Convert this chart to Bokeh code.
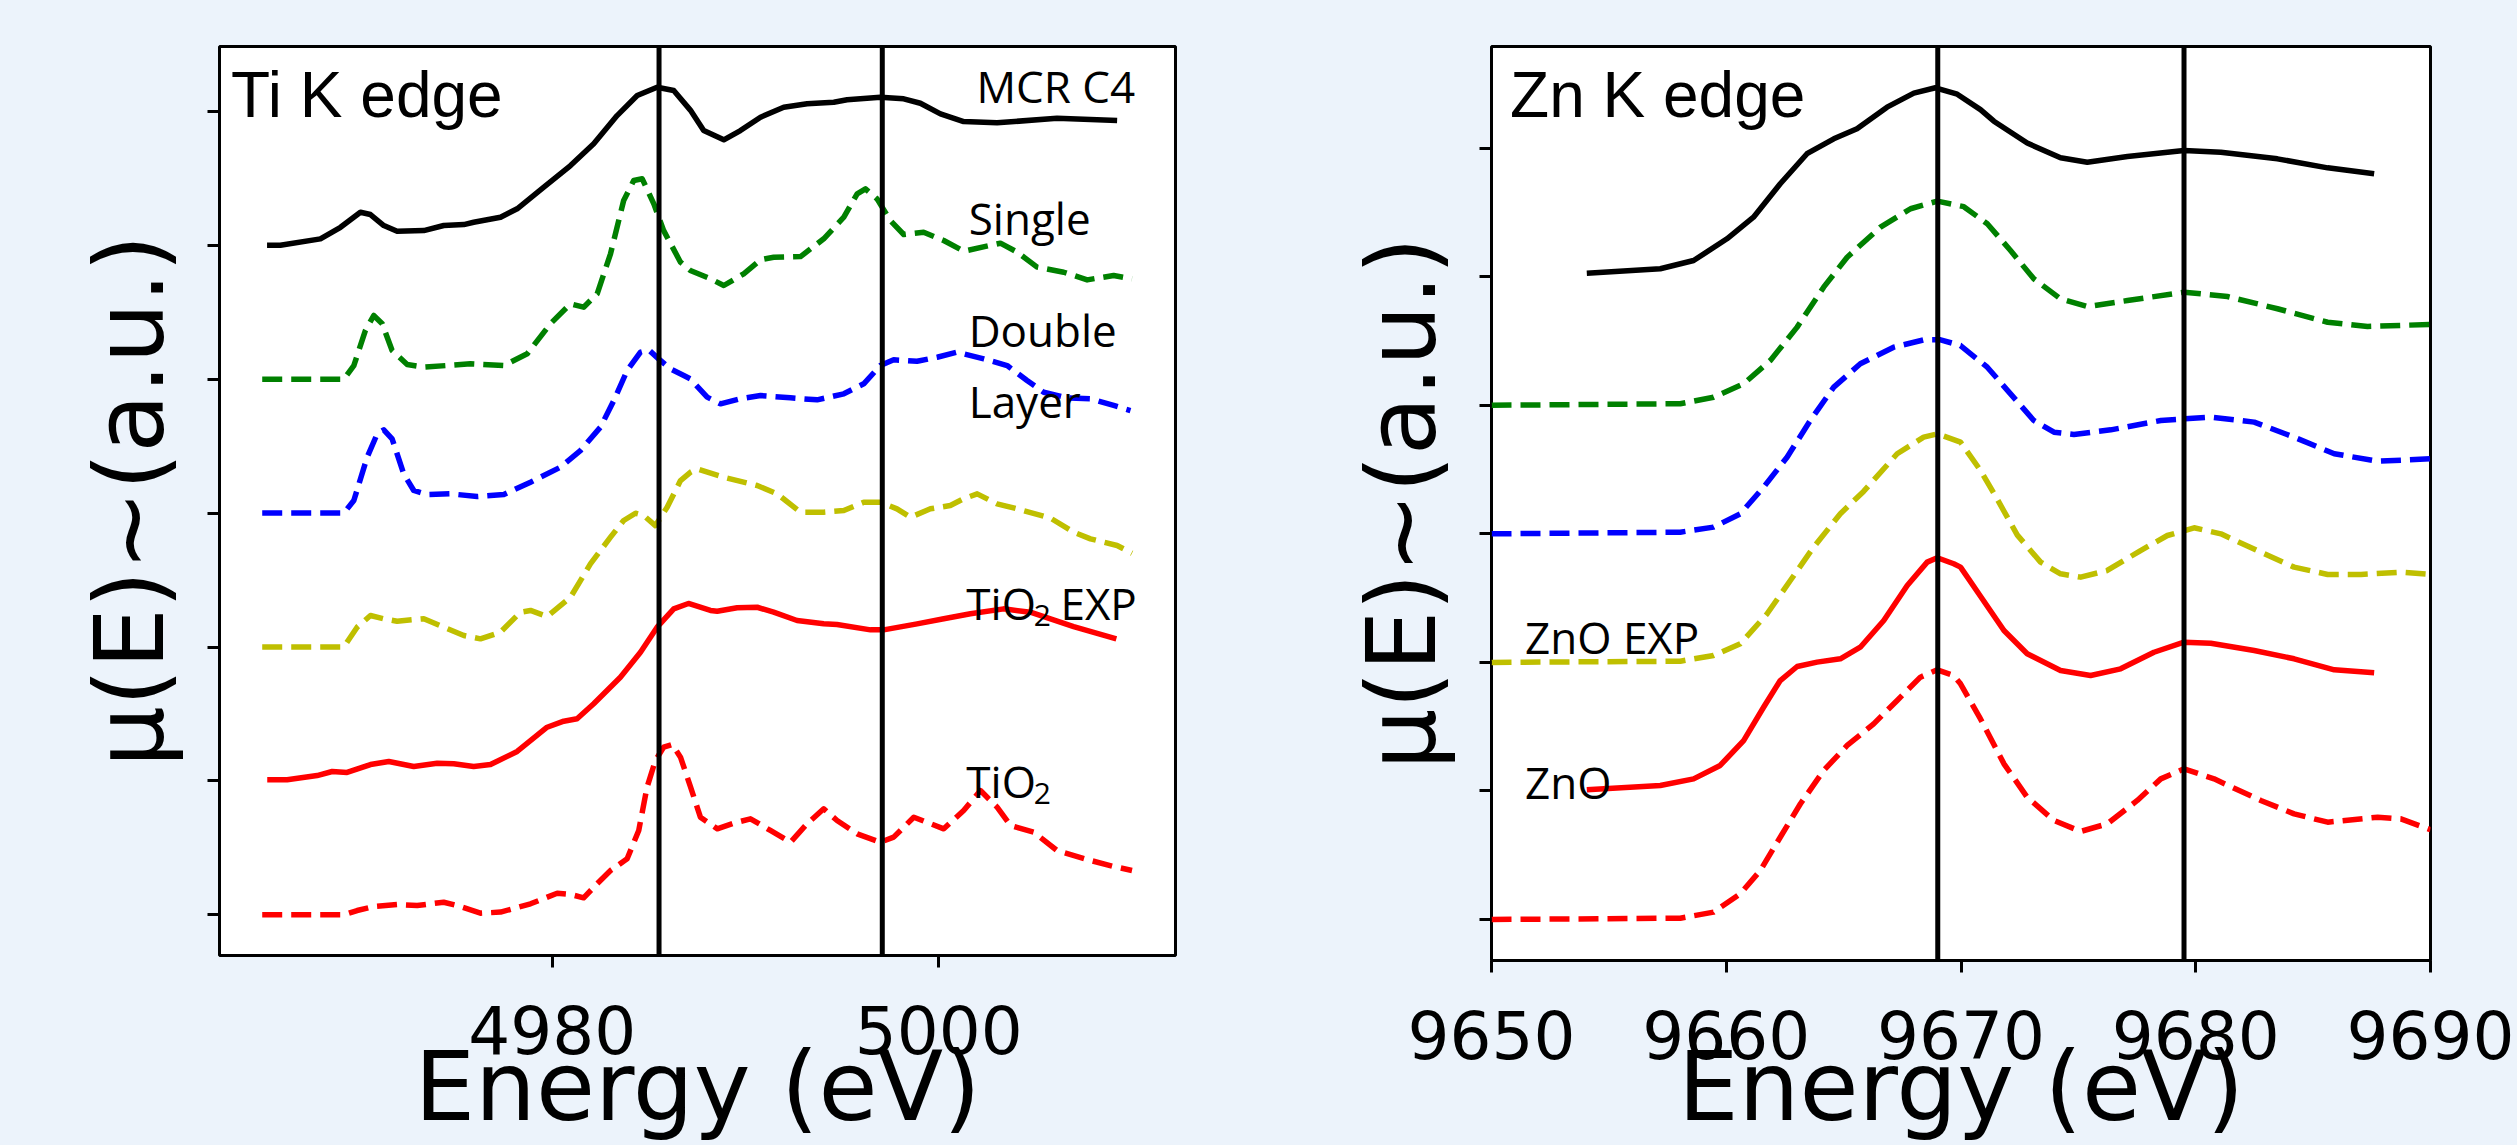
from bokeh.plotting import figure
from bokeh.models import Range1d, FixedTicker, Label, Span
from bokeh.layouts import row, column
from bokeh.embed import file_html
from bokeh.resources import INLINE

# ---------------- Ti K edge data (energy in eV, stacked absorption) ----------------
ti_mcr_e = [4965.25, 4965.94, 4968.01, 4969.05, 4970.08, 4970.60, 4971.29, 4971.98, 4973.36, 4974.39,
            4975.43, 4975.94, 4977.33, 4978.19, 4979.57, 4980.95, 4982.15, 4983.36, 4984.40, 4985.43,
            4986.29, 4987.15, 4987.84, 4988.88, 4989.74, 4990.78, 4991.98, 4993.19, 4994.57, 4995.26,
            4996.98, 4998.19, 4999.05, 5000.09, 5001.29, 5003.02, 5006.12, 5009.23]
ti_mcr_y = [5.000, 5.000, 5.048, 5.135, 5.247, 5.230, 5.148, 5.105, 5.110, 5.148,
            5.155, 5.172, 5.210, 5.273, 5.434, 5.596, 5.758, 5.969, 6.119, 6.181,
            6.156, 6.010, 5.857, 5.788, 5.857, 5.957, 6.031, 6.057, 6.069, 6.087,
            6.106, 6.094, 6.061, 5.982, 5.924, 5.915, 5.949, 5.932]

ti_single_e = [4965.00, 4969.22, 4969.74, 4970.34, 4970.77, 4971.21, 4971.72, 4972.50, 4973.36, 4975.77,
               4977.50, 4978.71, 4979.91, 4980.95, 4981.63, 4982.33, 4983.02, 4983.70, 4984.22, 4984.66,
               4985.26, 4985.77, 4986.64, 4987.15, 4988.19, 4988.88, 4989.91, 4990.78, 4991.46, 4992.85,
               4994.05, 4995.09, 4995.78, 4996.21, 4996.81, 4997.50, 4998.19, 4999.22, 5000.26, 5001.29,
               5003.19, 5004.06, 5005.09, 5006.47, 5007.68, 5009.05, 5010.00]
ti_single_y = [4.000, 4.000, 4.102, 4.364, 4.476, 4.414, 4.214, 4.110, 4.090, 4.115,
               4.102, 4.190, 4.414, 4.563, 4.538, 4.638, 4.937, 5.335, 5.484, 5.497,
               5.310, 5.110, 4.874, 4.812, 4.750, 4.700, 4.787, 4.892, 4.911, 4.916,
               5.049, 5.210, 5.385, 5.422, 5.347, 5.185, 5.081, 5.098, 5.036, 4.956,
               5.016, 4.949, 4.837, 4.799, 4.742, 4.775, 4.750]

ti_double_e = [4965.00, 4969.22, 4969.74, 4970.43, 4970.95, 4971.29, 4971.72, 4972.32, 4972.84, 4973.53,
               4974.74, 4976.12, 4977.50, 4978.88, 4980.43, 4981.46, 4982.50, 4983.19, 4983.88, 4984.57,
               4985.00, 4985.51, 4986.12, 4986.81, 4987.15, 4988.02, 4988.71, 4989.74, 4990.78, 4992.33,
               4993.71, 4995.09, 4996.12, 4996.98, 4997.67, 4998.88, 4999.92, 5000.95, 5002.33, 5003.54,
               5004.57, 5005.43, 5006.64, 5007.85, 5009.05, 5009.92]
ti_double_y = [3.000, 3.000, 3.094, 3.418, 3.592, 3.622, 3.555, 3.293, 3.169, 3.139,
               3.144, 3.124, 3.139, 3.231, 3.343, 3.467, 3.642, 3.841, 4.065, 4.202,
               4.219, 4.152, 4.077, 4.028, 4.003, 3.866, 3.816, 3.854, 3.878, 3.861,
               3.846, 3.891, 3.966, 4.102, 4.145, 4.134, 4.164, 4.202, 4.152, 4.102,
               3.990, 3.903, 3.861, 3.854, 3.804, 3.766]

ti_layer_e = [4965.00, 4969.22, 4969.91, 4970.60, 4971.29, 4971.98, 4973.36, 4974.39, 4975.43, 4976.29,
              4977.33, 4978.36, 4978.88, 4979.74, 4980.95, 4981.98, 4983.02, 4983.70, 4984.31, 4984.74,
              4985.34, 4985.95, 4986.64, 4987.15, 4987.50, 4988.88, 4990.61, 4991.64, 4992.85, 4994.05,
              4995.09, 4996.12, 4996.98, 4997.84, 4998.54, 4999.57, 5000.60, 5001.29, 5001.99, 5003.02,
              5004.06, 5005.78, 5007.00, 5007.85, 5009.23, 5010.00]
ti_layer_y = [2.000, 2.000, 2.148, 2.235, 2.211, 2.193, 2.211, 2.148, 2.086, 2.061,
              2.111, 2.260, 2.273, 2.228, 2.372, 2.621, 2.820, 2.945, 2.999, 2.982,
              2.907, 3.044, 3.243, 3.305, 3.331, 3.268, 3.206, 3.144, 3.007, 3.007,
              3.019, 3.081, 3.081, 3.032, 2.969, 3.032, 3.057, 3.107, 3.144, 3.069,
              3.032, 2.963, 2.857, 2.808, 2.758, 2.700]

ti_exp_e = [4965.26, 4966.29, 4967.84, 4968.62, 4969.39, 4970.60, 4971.55, 4972.84, 4974.05, 4974.91,
            4975.94, 4976.81, 4978.19, 4979.74, 4980.60, 4981.29, 4982.15, 4983.53, 4984.57, 4985.43,
            4986.29, 4987.05, 4988.19, 4988.54, 4989.57, 4990.61, 4991.46, 4992.67, 4994.05, 4994.74,
            4996.47, 4997.15, 4998.88, 5000.26, 5001.64, 5003.36, 5004.74, 5006.98, 5009.19]
ti_exp_y = [1.008, 1.008, 1.040, 1.070, 1.063, 1.122, 1.145, 1.108, 1.132, 1.128,
            1.108, 1.122, 1.220, 1.401, 1.446, 1.464, 1.576, 1.774, 1.961, 2.148,
            2.285, 2.325, 2.273, 2.267, 2.293, 2.297, 2.260, 2.198, 2.173, 2.168,
            2.128, 2.128, 2.173, 2.211, 2.248, 2.285, 2.260, 2.153, 2.061]

ti_tio2_e = [4965.00, 4969.22, 4969.91, 4970.77, 4971.98, 4973.02, 4974.39, 4975.09, 4976.29, 4977.33,
             4978.88, 4980.26, 4980.95, 4981.63, 4982.33, 4983.02, 4983.88, 4984.48, 4984.91, 4985.34,
             4985.77, 4986.21, 4986.64, 4987.15, 4987.67, 4988.54, 4989.39, 4990.26, 4991.29, 4992.33,
             4993.19, 4994.05, 4994.74, 4995.78, 4996.98, 4997.67, 4998.71, 5000.26, 5001.29, 5002.16,
             5003.02, 5003.71, 5004.91, 5006.12, 5007.85, 5009.05, 5010.00]
ti_tio2_y = [0.000, 0.000, 0.032, 0.062, 0.077, 0.069, 0.094, 0.069, 0.012, 0.020,
             0.082, 0.161, 0.152, 0.127, 0.232, 0.331, 0.418, 0.630, 0.953, 1.152,
             1.252, 1.272, 1.177, 0.960, 0.729, 0.642, 0.684, 0.717, 0.630, 0.542,
             0.680, 0.792, 0.704, 0.605, 0.542, 0.580, 0.729, 0.642, 0.779, 0.928,
             0.804, 0.667, 0.617, 0.480, 0.406, 0.361, 0.331]

ti_vlines = [4985.53, 4997.08]
ti_xticks = [4980, 5000]

# ---------------- Zn K edge data ----------------
zn_mcr_e = [9654.06, 9657.19, 9658.61, 9660.03, 9661.16, 9662.30, 9663.44, 9664.58, 9665.57, 9666.85,
            9667.99, 9668.91, 9669.84, 9670.83, 9671.40, 9672.82, 9674.24, 9675.38, 9677.09, 9679.50,
            9681.07, 9683.48, 9685.62, 9687.60]
zn_mcr_y = [5.028, 5.062, 5.126, 5.295, 5.463, 5.723, 5.957, 6.073, 6.151, 6.319,
            6.428, 6.470, 6.420, 6.300, 6.210, 6.040, 5.925, 5.891, 5.935, 5.982,
            5.969, 5.917, 5.847, 5.801]

zn_single_e = [9650.00, 9658.04, 9659.46, 9660.74, 9661.88, 9663.02, 9664.15, 9665.15, 9666.57, 9667.85,
               9668.99, 9670.12, 9671.12, 9672.11, 9673.10, 9674.24, 9675.38, 9677.09, 9679.50, 9681.35,
               9683.48, 9685.62, 9687.32, 9690.00]
zn_single_y = [4.000, 4.012, 4.063, 4.167, 4.349, 4.608, 4.919, 5.152, 5.386, 5.529,
               5.588, 5.545, 5.412, 5.204, 4.984, 4.828, 4.768, 4.815, 4.880, 4.846,
               4.751, 4.646, 4.613, 4.629]

zn_double_e = [9650.00, 9658.04, 9659.46, 9660.60, 9661.59, 9662.59, 9663.58, 9664.58, 9665.71, 9667.13,
               9668.41, 9669.13, 9669.98, 9671.12, 9672.11, 9673.10, 9673.96, 9674.81, 9676.38, 9678.51,
               9680.64, 9682.49, 9684.19, 9685.90, 9687.75, 9690.00]
zn_double_y = [3.000, 3.013, 3.052, 3.156, 3.363, 3.596, 3.882, 4.141, 4.323, 4.452,
               4.509, 4.509, 4.465, 4.296, 4.089, 3.882, 3.791, 3.773, 3.809, 3.882,
               3.908, 3.869, 3.752, 3.623, 3.565, 3.584]

zn_layer_e = [9650.00, 9658.04, 9659.46, 9660.60, 9661.74, 9662.73, 9663.72, 9664.86, 9665.85, 9667.28,
              9668.41, 9668.99, 9669.98, 9670.83, 9671.45, 9672.40, 9673.39, 9674.24, 9675.10, 9676.23,
              9677.65, 9678.79, 9679.93, 9681.07, 9682.77, 9684.19, 9685.62, 9687.04, 9688.74, 9690.00]
zn_layer_y = [2.000, 2.009, 2.054, 2.145, 2.378, 2.637, 2.896, 3.156, 3.330, 3.623,
              3.752, 3.778, 3.713, 3.493, 3.300, 2.990, 2.780, 2.689, 2.663, 2.715,
              2.870, 2.987, 3.047, 3.000, 2.857, 2.741, 2.684, 2.684, 2.702, 2.684]

zn_exp_e = [9654.06, 9657.19, 9658.61, 9659.74, 9660.74, 9661.59, 9662.30, 9663.02, 9663.87, 9664.86,
            9665.71, 9666.71, 9667.71, 9668.56, 9668.99, 9669.69, 9669.98, 9670.83, 9671.83, 9672.82,
            9674.24, 9675.52, 9676.80, 9678.22, 9679.50, 9680.64, 9682.49, 9684.19, 9685.90, 9687.60]
zn_exp_y = [1.009, 1.042, 1.094, 1.198, 1.392, 1.651, 1.859, 1.968, 2.002, 2.028,
            2.118, 2.326, 2.598, 2.780, 2.814, 2.767, 2.741, 2.515, 2.248, 2.067,
            1.937, 1.898, 1.950, 2.079, 2.157, 2.149, 2.093, 2.028, 1.942, 1.919]

zn_zno_e = [9650.00, 9658.04, 9659.46, 9660.60, 9661.45, 9662.30, 9663.16, 9664.15, 9665.15, 9666.28,
            9667.28, 9668.27, 9668.99, 9669.69, 9669.98, 9670.83, 9671.83, 9672.82, 9673.96, 9675.10,
            9676.23, 9677.51, 9678.51, 9679.50, 9680.78, 9682.77, 9684.19, 9685.62, 9687.75, 9688.74,
            9690.00]
zn_zno_y = [0.000, 0.010, 0.057, 0.200, 0.381, 0.640, 0.900, 1.159, 1.354, 1.522,
            1.704, 1.885, 1.942, 1.898, 1.833, 1.560, 1.211, 0.951, 0.770, 0.685,
            0.744, 0.926, 1.094, 1.172, 1.094, 0.926, 0.822, 0.757, 0.796, 0.783,
            0.698]

zn_vlines = [9669.01, 9679.50]
zn_xticks = [9650, 9660, 9670, 9680, 9690]
y_ticks = [0, 1, 2, 3, 4, 5, 6]

BG = "#ECF3FB"
LW = 5.5
DASH = "20 9"
LBL_FONT = "Open Sans"
AX_FONT = "DejaVu Sans"
TOTAL_H = 1145
TOP = 46
BOTTOM_MAIN = 16
STRIP_TOP = 60


def base_fig(xr, yr, w, fh, bl, br, xticks):
    p = figure(width=w, height=TOP + fh + BOTTOM_MAIN, min_border_left=bl, min_border_right=br,
               min_border_top=TOP, min_border_bottom=BOTTOM_MAIN,
               x_range=Range1d(*xr), y_range=Range1d(*yr),
               output_backend="svg", toolbar_location=None,
               background_fill_color="white", border_fill_color=BG)
    p.xgrid.visible = False
    p.ygrid.visible = False
    p.outline_line_color = "black"
    p.outline_line_width = 3
    p.outline_line_alpha = 1.0
    for ax in (p.xaxis[0], p.yaxis[0]):
        ax.axis_line_color = None
        ax.major_tick_out = 12
        ax.major_tick_in = 0
        ax.major_tick_line_width = 3
        ax.major_tick_line_color = "black"
        ax.minor_tick_line_color = None
    p.xaxis.ticker = FixedTicker(ticks=xticks)
    p.xaxis.major_label_overrides = {t: "" for t in xticks}
    p.xaxis.major_label_text_font_size = "1px"
    p.xaxis.major_label_standoff = 0
    p.yaxis.ticker = FixedTicker(ticks=y_ticks)
    p.yaxis.major_label_overrides = {t: "" for t in y_ticks}
    p.yaxis.major_label_text_font_size = "1px"
    p.yaxis.major_label_standoff = 5
    p.yaxis.axis_label = "μ(E)~(a.u.)"
    p.yaxis.axis_label_standoff = 22
    p.yaxis.axis_label_text_font = AX_FONT
    p.yaxis.axis_label_text_font_size = "96px"
    p.yaxis.axis_label_text_font_style = "normal"
    p.yaxis.axis_label_text_color = "black"
    return p


def bottom_fig(p, xr, xticks, bl, br):
    # strip under a panel: same frame width and x scale, tick numbers on an
    # axis along its top edge, the x title inside it
    h = TOTAL_H - p.height
    fh = h - STRIP_TOP
    f = figure(width=p.width, height=h, x_range=Range1d(*xr), y_range=Range1d(0, fh),
               x_axis_location="above", y_axis_type=None,
               output_backend="svg", toolbar_location=None,
               min_border_left=bl, min_border_right=br, min_border_top=STRIP_TOP,
               min_border_bottom=0,
               background_fill_color=BG, border_fill_color=BG)
    f.outline_line_color = None
    f.xgrid.visible = False
    ax = f.xaxis[0]
    ax.ticker = FixedTicker(ticks=xticks)
    ax.axis_line_color = None
    ax.major_tick_out = 0
    ax.major_tick_in = 0
    ax.minor_tick_line_color = None
    ax.major_label_text_font = AX_FONT
    ax.major_label_text_font_size = "66px"
    ax.major_label_text_font_style = "normal"
    ax.major_label_text_color = "black"
    ax.major_label_standoff = -22
    return f


def add_label(p, x, y, text, shift_px, unit_px, font=LBL_FONT, size="44px", align="left"):
    # shift_px compensates the gap between the requested and drawn baseline
    p.add_layout(Label(x=x, y=y + shift_px / unit_px, text=text, text_font=font,
                       text_font_size=size, text_color="black", text_align=align,
                       text_baseline="alphabetic"))


# ---------------- left panel ----------------
TI_XR = (4962.79, 5012.25)
p1 = base_fig(TI_XR, (-0.304, 6.485), 1235, 909, 219, 60, ti_xticks)
series_ti = [
    (ti_mcr_e, ti_mcr_y, "black", "solid"),
    (ti_single_e, ti_single_y, "#008000", DASH),
    (ti_double_e, ti_double_y, "#0000FF", DASH),
    (ti_layer_e, ti_layer_y, "#BFBF00", DASH),
    (ti_exp_e, ti_exp_y, "#FF0000", "solid"),
    (ti_tio2_e, ti_tio2_y, "#FF0000", DASH),
]
for xs, ys, c, d in series_ti:
    p1.line(xs, ys, line_color=c, line_width=LW, line_dash=d, line_join="round")
for v in ti_vlines:
    p1.add_layout(Span(location=v, dimension="height", line_color="black", line_width=5))

U1 = 133.9
add_label(p1, 4963.39, 5.962, "Ti K edge", 22, U1, font="Liberation Sans", size="64px")
add_label(p1, 5001.95, 6.057, "MCR C4", 18, U1)
add_label(p1, 5001.55, 5.073, "Single", 18, U1)
add_label(p1, 5001.55, 4.234, "Double", 18, U1)
add_label(p1, 5001.55, 3.704, "Layer", 18, U1)
add_label(p1, 5001.43, 2.198, "TiO", 18, U1)
add_label(p1, 5004.92, 2.148, "2", 12, U1, size="30px")
add_label(p1, 5006.30, 2.198, "EXP", 18, U1)
add_label(p1, 5001.43, 0.866, "TiO", 18, U1)
add_label(p1, 5004.92, 0.816, "2", 12, U1, size="30px")

b1 = bottom_fig(p1, TI_XR, ti_xticks, 219, 60)
add_label(b1, (TI_XR[0] + TI_XR[1]) / 2, TOTAL_H - 1120, "Energy (eV)", 34, 1.0,
          font=AX_FONT, size="96px", align="center")

# ---------------- right panel ----------------
ZN_XR = (9650, 9690)
p2 = base_fig(ZN_XR, (-0.319, 6.791), 1282, 914, 256, 87, zn_xticks)
series_zn = [
    (zn_mcr_e, zn_mcr_y, "black", "solid"),
    (zn_single_e, zn_single_y, "#008000", DASH),
    (zn_double_e, zn_double_y, "#0000FF", DASH),
    (zn_layer_e, zn_layer_y, "#BFBF00", DASH),
    (zn_exp_e, zn_exp_y, "#FF0000", "solid"),
    (zn_zno_e, zn_zno_y, "#FF0000", DASH),
]
for xs, ys, c, d in series_zn:
    p2.line(xs, ys, line_color=c, line_width=LW, line_dash=d, line_join="round")
for v in zn_vlines:
    p2.add_layout(Span(location=v, dimension="height", line_color="black", line_width=5))

U2 = 128.55
add_label(p2, 9650.79, 6.241, "Zn K edge", 22, U2, font="Liberation Sans", size="64px")
add_label(p2, 9651.43, 2.054, "ZnO EXP", 18, U2)
add_label(p2, 9651.43, 0.931, "ZnO", 18, U2)

b2 = bottom_fig(p2, ZN_XR, zn_xticks, 256, 87)
add_label(b2, (ZN_XR[0] + ZN_XR[1]) / 2, TOTAL_H - 1120, "Energy (eV)", 34, 1.0,
          font=AX_FONT, size="96px", align="center")

layout = row(column(p1, b1, spacing=0), column(p2, b2, spacing=0), spacing=0)
html = file_html(layout, INLINE, "XANES")
html = html.replace("<body>", '<body style="margin:0;padding:0;background:%s;">' % BG)
open("out.html", "w").write(html)
